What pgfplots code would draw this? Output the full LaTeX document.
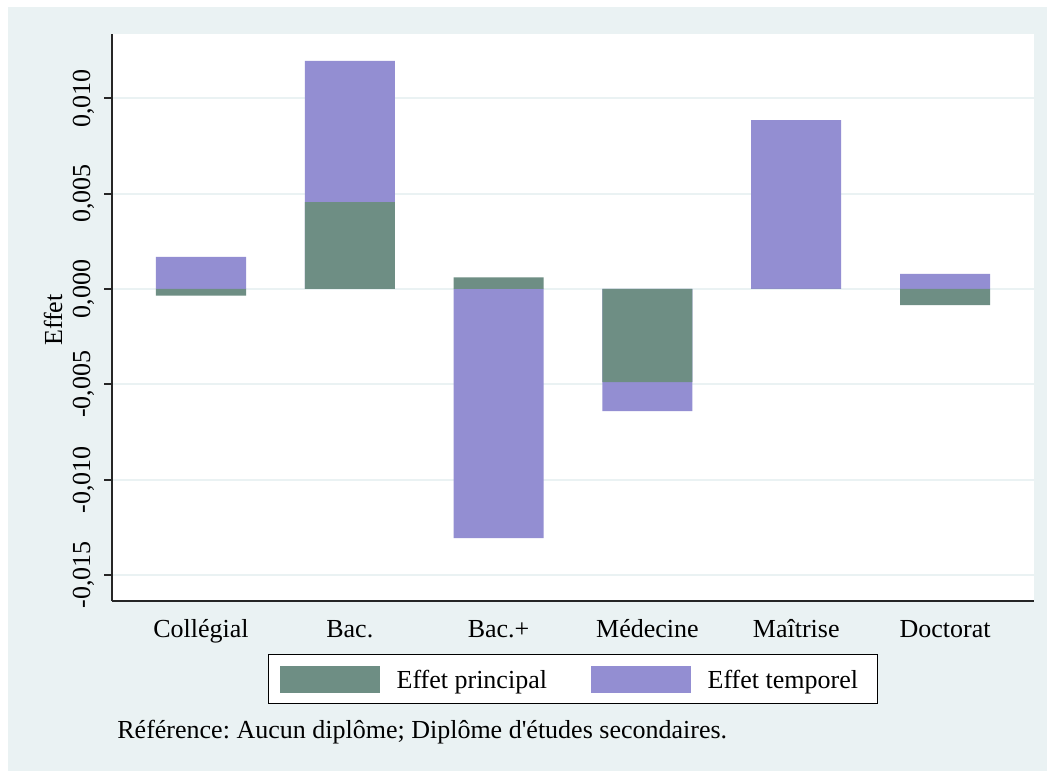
\documentclass[border=0pt]{standalone}
\usepackage{pgfplots}
\pgfplotsset{compat=1.18}
\usepackage{fontspec}
\setmainfont{Liberation Serif}
\newfontfamily\plainserif{Liberation Serif}
\definecolor{bgc}{RGB}{234,242,243}
\definecolor{gridc}{RGB}{234,242,243}
\definecolor{greenc}{RGB}{110,142,132}
\definecolor{purplec}{RGB}{147,142,210}
\newcommand{\f}{\fontsize{13}{15.6}\selectfont}
\frenchspacing
\begin{document}
\begin{tikzpicture}
\fill[white] (0,0) rectangle (523.5pt,385.5pt);
\fill[bgc] (4pt,0) rectangle (523.5pt,382pt);
\begin{axis}[
  at={(56pt,85pt)}, anchor=south west,
  scale only axis, width=461pt, height=283.5pt,
  xmin=-0.598, xmax=5.598, ymin=-0.01636, ymax=0.01337,
  axis background/.style={fill=white},
  axis x line*=bottom, axis y line*=left,
  axis line style={black!85, line width=1pt},
  ytick={-0.015,-0.01,-0.005,0,0.005,0.01},
  yticklabels={{-0,015},{-0,010},{-0,005},{0,000},{0,005},{0,010}},
  scaled y ticks=false,
  xtick={0,1,2,3,4,5},
  xticklabels={Collégial,Bac.,Bac.+,Médecine,Maîtrise,Doctorat},
  ymajorgrids, grid style={gridc, line width=1pt},
  tick align=outside, major tick length=4pt,
  x tick style={draw=none},
  y tick style={black!85, line width=1pt},
  tick label style={font=\f},
  yticklabel style={xshift=-7pt, rotate=90, anchor=base, inner sep=0pt},
  xticklabel style={anchor=base, inner sep=0pt, yshift=-14pt},
  legend columns=2,
  reverse legend,
  legend image code/.code={\fill[#1] (0pt,-1.85pt) rectangle (50pt,11.65pt);},
  legend style={at={(0.1692,-0.0935)}, anchor=north west, draw=black, line width=0.6pt,
    fill=white, inner xsep=5.5pt, inner ysep=5.5pt, font=\f, column sep=0pt,
    nodes={inner sep=0pt, anchor=base west}},
]
\addplot[ybar, bar width=0.605, bar shift=0pt, fill=purplec, draw=none]
  coordinates {(0,0.00168) (1,0.01196) (2,-0.01306) (3,-0.0064) (4,0.00886) (5,0.00079)};
\addlegendentry{\makebox[88pt][l]{\hspace{8.5pt}Effet temporel}}
\addplot[ybar, bar width=0.605, bar shift=0pt, fill=greenc, draw=none]
  coordinates {(0,-0.00035) (1,0.00455) (2,0.00061) (3,-0.00488) (4,0) (5,-0.00084)};
\addlegendentry{\makebox[105.5pt][l]{\hspace{8.5pt}Effet principal}}
\end{axis}
\node[rotate=90, anchor=base, font=\f] at (31pt,225.5pt) {Effet};
\node[anchor=base west, inner sep=0pt, font=\f] at (58.5pt,16.5pt) {Référence: Aucun diplôme; Diplôme d{\plainserif'}études secondaires.};
\end{tikzpicture}
\end{document}
